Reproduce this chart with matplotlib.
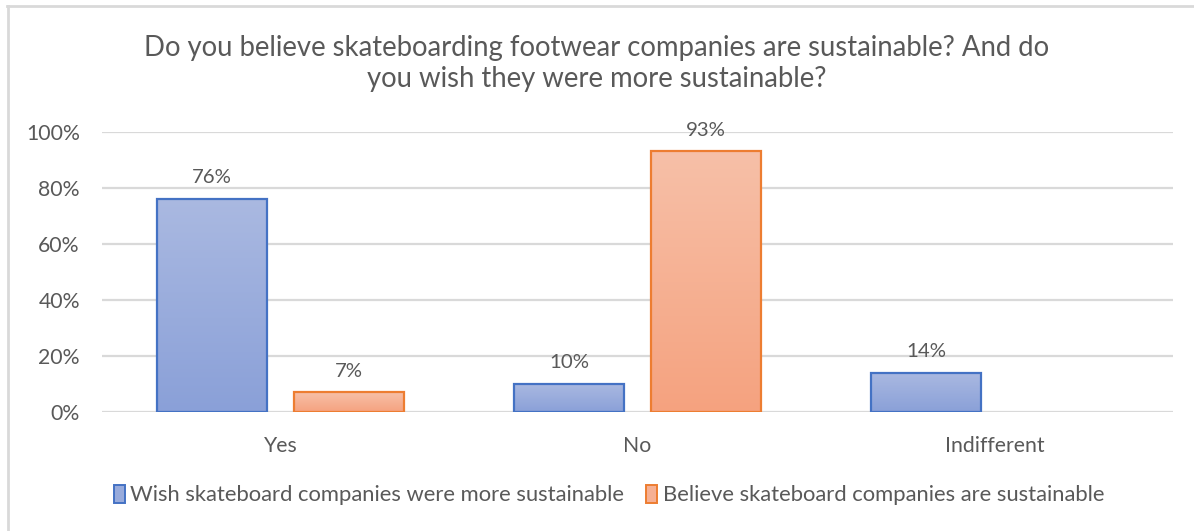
import matplotlib.pyplot as plt
import numpy as np
from matplotlib.lines import Line2D
from matplotlib.colors import LinearSegmentedColormap
from matplotlib.patches import Patch

plt.rcParams['font.family'] = ['Lato', 'DejaVu Sans']

categories = ['Yes', 'No', 'Indifferent']
wish_more = [0.76, 0.10, 0.14]
believe_are = [0.07, 0.93, None]
series_names = ['Wish skateboard companies were more sustainable',
                'Believe skateboard companies are sustainable']
title = 'Do you believe skateboarding footwear companies are sustainable? And do\nyou wish they were more sustainable?'

grey = '#595959'
blue_edge, orange_edge = '#4472c4', '#ed7d31'
blue_grad = LinearSegmentedColormap.from_list('bg', ['#8aa0d8', '#aab9e1'])
orange_grad = LinearSegmentedColormap.from_list('og', ['#f5a27f', '#f7c0a8'])

fig = plt.figure(figsize=(11.94, 5.31), dpi=100)
ax = fig.add_axes([0.0855, 0.224, 0.897, 0.528])

x = np.arange(len(categories))
width = 0.31
offset = 0.192
grad = np.linspace(0, 1, 256).reshape(-1, 1)


def gradient_bars(xs, vals, cmap, edge):
    for xi, v in zip(xs, vals):
        if v is None:
            continue
        bar = ax.bar(xi, v, width, facecolor='none', edgecolor=edge, linewidth=1.6, zorder=4)[0]
        im = ax.imshow(grad, cmap=cmap, origin='lower', aspect='auto',
                       extent=[xi - width / 2, xi + width / 2, 0, v], zorder=3)
        im.set_clip_path(bar)
        ax.text(xi, v + 0.045, f'{round(v * 100)}%', ha='center', va='bottom',
                fontsize=14.7, color=grey, zorder=5)


gradient_bars(x - offset, wish_more, blue_grad, blue_edge)
gradient_bars(x + offset, believe_are, orange_grad, orange_edge)

ax.set_xlim(-0.5, 2.5)
ax.set_ylim(0, 1.0)
ticks = np.arange(0, 1.01, 0.2)
ax.set_yticks(ticks)
ax.set_yticklabels([f'{int(round(t * 100))}%' for t in ticks])
ax.set_xticks(x)
ax.set_xticklabels(categories)
ax.tick_params(axis='both', length=0, labelsize=15.3, colors=grey)
ax.tick_params(axis='x', pad=17)
ax.tick_params(axis='y', pad=16)
ax.yaxis.grid(True, color='#d9d9d9', linewidth=1.6, zorder=0)
ax.set_axisbelow(True)
for s in ax.spines.values():
    s.set_visible(False)

fig.text(0.5, 0.881, title, ha='center', va='center', fontsize=19.8,
         color=grey, linespacing=1.25)

handles = [Patch(facecolor='#98abdc', edgecolor=blue_edge, linewidth=1.4),
           Patch(facecolor='#f6b093', edgecolor=orange_edge, linewidth=1.4)]
fig.legend(handles, series_names, loc='center', bbox_to_anchor=(0.51, 0.068), ncol=2,
           frameon=False, fontsize=15.8, labelcolor=grey, handlelength=0.5,
           handleheight=0.9, handletextpad=0.25, columnspacing=1.0)

# outer chart frame
fig.add_artist(Line2D([0.006, 1.0], [0.9887, 0.9887], color='#d9d9d9', linewidth=2))
fig.add_artist(Line2D([0.0067, 0.0067], [0.0, 0.9887], color='#d9d9d9', linewidth=2))

fig.savefig('out.png', dpi=100)
